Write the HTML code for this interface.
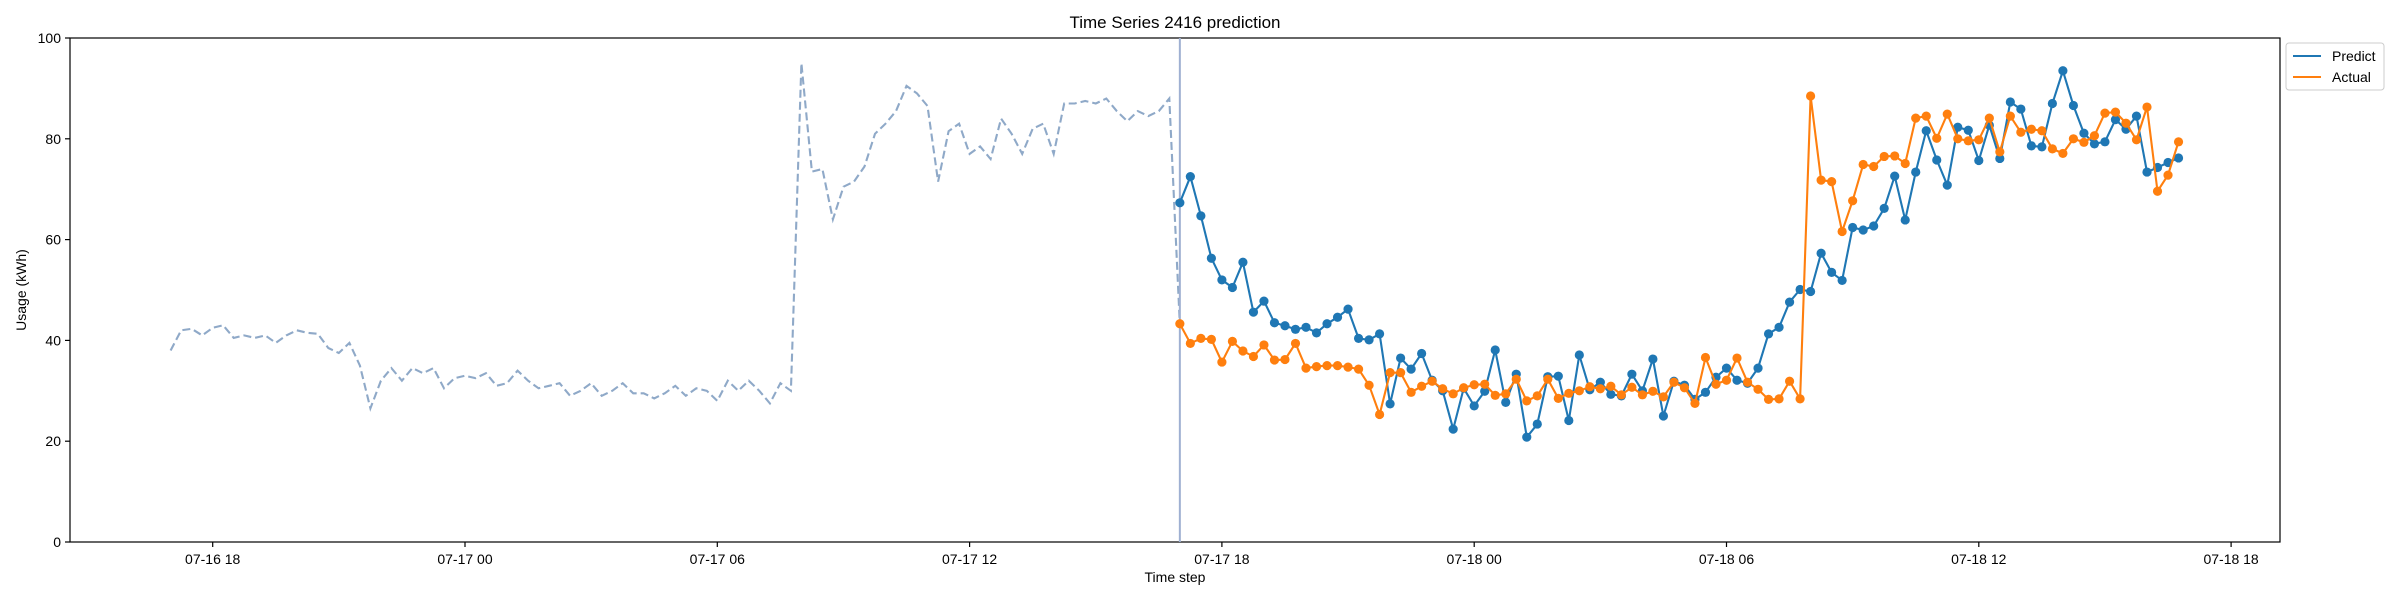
<!DOCTYPE html>
<html><head><meta charset="utf-8"><style>
html,body{margin:0;padding:0;background:#fff;}
svg{display:block;font-family:"Liberation Sans","DejaVu Sans",sans-serif;}
</style></head><body>
<svg id="chart" width="2400" height="600" viewBox="0 0 2400 600" xmlns="http://www.w3.org/2000/svg">
<text x="1175" y="28" text-anchor="middle" font-size="17">Time Series 2416 prediction</text>
<g id="plot"></g>
<text x="1175" y="582" text-anchor="middle" font-size="14">Time step</text>
<text x="26" y="290" text-anchor="middle" font-size="14" transform="rotate(-90 26 290)">Usage (kWh)</text>
<g>
<rect x="2286" y="43" width="98" height="47" rx="3" fill="#fff" stroke="#ccc" stroke-width="1"/>
<line x1="2293" y1="56" x2="2321" y2="56" stroke="#1f77b4" stroke-width="2.1"/>
<text x="2332" y="61" font-size="14">Predict</text>
<line x1="2293" y1="77" x2="2321" y2="77" stroke="#ff7f0e" stroke-width="2.1"/>
<text x="2332" y="82" font-size="14">Actual</text>
</g>
</svg>
<script>
const history = [38,42,42.3,41,42.5,43,40.5,41,40.5,41,39.5,41,42,41.5,41.3,38.5,37.5,39.5,35,26.5,32,34.5,32,34.5,33.5,34.5,30.5,32.5,33,32.5,33.5,31,31.5,34,32,30.5,31,31.5,29,30,31.5,29,30,31.5,29.5,29.5,28.5,29.5,31,29,30.5,30,28,32,30,32,30,27.5,31.5,30,95,73.5,74,64,70.5,71.5,74.5,81,83,85.5,90.5,89,86.5,71.5,81.5,83,77,78.5,76,84,81,77,82,83,77,87,87,87.5,87,88,85.5,83.5,85.5,84.5,85.5,88,43.3];
const predict = [67.3,72.5,64.7,56.3,52,50.5,55.5,45.6,47.8,43.5,42.9,42.2,42.6,41.5,43.3,44.6,46.2,40.4,40.1,41.3,27.4,36.5,34.3,37.4,32.1,30,22.4,30.5,27,29.9,38.1,27.7,33.3,20.8,23.4,32.8,32.9,24.1,37.1,30.2,31.7,29.3,29,33.3,30,36.3,25,31.9,31.1,28.3,29.7,32.7,34.5,32.1,31.5,34.5,41.3,42.6,47.6,50.1,49.7,57.3,53.5,51.9,62.4,61.9,62.7,66.2,72.6,63.9,73.4,81.6,75.8,70.8,82.3,81.7,75.7,82.7,76.1,87.3,85.9,78.6,78.4,87,93.5,86.6,81.1,79,79.4,83.8,81.9,84.5,73.4,74.3,75.3,76.2];
const actual = [43.3,39.4,40.4,40.2,35.7,39.8,37.9,36.8,39.1,36.1,36.2,39.4,34.5,34.8,35,35,34.7,34.3,31.1,25.3,33.6,33.6,29.7,30.9,31.9,30.4,29.4,30.6,31.2,31.3,29.1,29.4,32.3,28,29,32.3,28.5,29.5,30,30.8,30.4,30.9,29.2,30.7,29.2,29.9,28.8,31.7,30.6,27.5,36.6,31.3,32.1,36.5,31.7,30.3,28.3,28.4,31.9,28.4,88.5,71.8,71.5,61.6,67.7,74.9,74.5,76.5,76.6,75.1,84.1,84.5,80.1,84.9,80,79.6,79.8,84.1,77.4,84.5,81.3,81.9,81.6,78,77.1,80,79.3,80.6,85.1,85.3,83.1,79.8,86.3,69.6,72.8,79.4];
const yTicks = [0,20,40,60,80,100];
const xTickLabels = ["07-16 18","07-17 00","07-17 06","07-17 12","07-17 18","07-18 00","07-18 06","07-18 12","07-18 18"];
const historyStartHour = -1;   // hours relative to 07-16 18:00
const predictStartHour = 23;   // 07-17 17:00
const stepHours = 0.25;

const L=70,R=2280,T=38,B=542;
const X0=212.7, PXH=42.05;
const xs = h => X0 + h*PXH;
const ys = v => B - (v/100)*(B-T);
const NS="http://www.w3.org/2000/svg";
const g=document.getElementById('plot');
function mk(tag,attrs){const e=document.createElementNS(NS,tag);for(const k in attrs)e.setAttribute(k,attrs[k]);g.appendChild(e);return e;}

// axes frame
const frame=mk('rect',{x:L,y:T,width:R-L,height:B-T,fill:'none',stroke:'#000','stroke-width':1.2});



yTicks.forEach(v=>{
  const t=mk('line',{x1:L-5,x2:L,y1:ys(v),y2:ys(v),stroke:'#000','stroke-width':1.2});
  
  
  const tx=mk('text',{x:L-9,y:ys(v)+5,'text-anchor':'end','font-size':14});
  tx.textContent=v;
  
  
});
xTickLabels.forEach((lab,i)=>{
  const x=xs(i*6);
  const t=mk('line',{x1:x,x2:x,y1:B,y2:B+5,stroke:'#000','stroke-width':1.2});
  
  
  const tx=mk('text',{x:x,y:B+22,'text-anchor':'middle','font-size':14});
  tx.textContent=lab;
  
  
});

// history dashed
const hp=history.map((v,i)=>xs(historyStartHour+i*stepHours).toFixed(1)+','+ys(v).toFixed(1)).join(' ');
const hl=mk('polyline',{points:hp,fill:'none',stroke:'#8fa9c8','stroke-width':2.1,'stroke-dasharray':'8,4'});



// divider
const vx=xs(predictStartHour);
const vl=mk('line',{x1:vx,x2:vx,y1:T,y2:B,stroke:'#9fb0d2','stroke-width':2});



function series(arr,color,name){
  const pts=arr.map((v,i)=>xs(predictStartHour+i*stepHours).toFixed(1)+','+ys(v).toFixed(1)).join(' ');
  const pl=mk('polyline',{points:pts,fill:'none',stroke:color,'stroke-width':2.1});
  
  
  arr.forEach((v,i)=>{
    const c=mk('circle',{cx:xs(predictStartHour+i*stepHours),cy:ys(v),r:4.6,fill:color});
    
    
  });
}
series(predict,'#1f77b4','predict');
series(actual,'#ff7f0e','actual');
</script>
</body></html>
